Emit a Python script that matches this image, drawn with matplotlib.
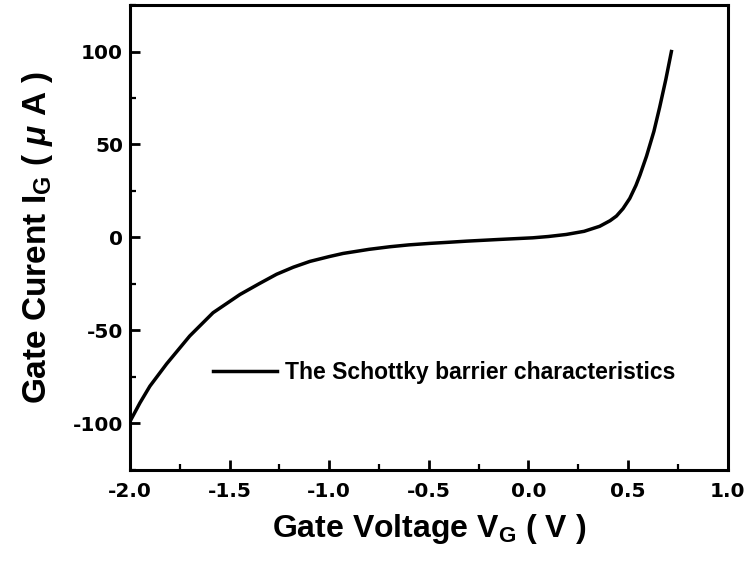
import matplotlib
matplotlib.use("Agg")
import matplotlib.pyplot as plt
from matplotlib.ticker import MultipleLocator, FormatStrFormatter

plt.rcParams['font.family'] = ['Liberation Sans', 'DejaVu Sans']
plt.rcParams['font.weight'] = 'bold'
plt.rcParams['axes.unicode_minus'] = False
plt.rcParams['mathtext.fontset'] = 'custom'
plt.rcParams['mathtext.rm'] = 'Liberation Sans:bold'
plt.rcParams['mathtext.bf'] = 'Liberation Sans:bold'
plt.rcParams['mathtext.it'] = 'Liberation Sans:italic:bold'

# gate voltage (V) and gate current (uA)
vg = [-2.0, -1.95, -1.9, -1.816, -1.7, -1.583, -1.448, -1.35, -1.264, -1.18,
      -1.097, -1.0, -0.93, -0.8, -0.695, -0.6, -0.495, -0.4, -0.311, -0.15,
      0.022, 0.1, 0.19, 0.28, 0.358, 0.41, 0.442, 0.475, 0.509, 0.54, 0.56,
      0.593, 0.63, 0.659, 0.69, 0.718]
ig = [-99, -89, -80, -68, -53, -40.5, -30.7, -24.8, -19.8, -16.0,
      -12.9, -10.3, -8.6, -6.4, -5.0, -4.0, -3.2, -2.6, -2.0, -1.1,
      -0.2, 0.5, 1.6, 3.3, 6, 9, 11.5, 15.5, 21, 28, 33.5,
      43.7, 57, 70, 85, 100]

legend_label = "The Schottky barrier characteristics"

fig = plt.figure(figsize=(7.47, 5.64), dpi=100)
ax = fig.add_axes([0.174, 0.167, 0.8, 0.824])

ax.plot(vg, ig, color='black', lw=2.5, label=legend_label)

ax.set_xlim(-2.0, 1.0)
ax.set_ylim(-125, 125)
ax.xaxis.set_major_locator(MultipleLocator(0.5))
ax.xaxis.set_minor_locator(MultipleLocator(0.25))
ax.yaxis.set_major_locator(MultipleLocator(50))
ax.yaxis.set_minor_locator(MultipleLocator(25))
ax.xaxis.set_major_formatter(FormatStrFormatter('%.1f'))
ax.tick_params(which='major', direction='in', length=7, width=2, labelsize=14.5)
ax.tick_params(axis='x', which='major', pad=9)
ax.tick_params(axis='y', which='major', pad=5)
ax.tick_params(which='minor', direction='in', length=4, width=1.6)
for lab in ax.get_xticklabels() + ax.get_yticklabels():
    lab.set_fontweight('bold')
    lab.set_family('DejaVu Sans')
for s in ax.spines.values():
    s.set_linewidth(2.2)

ax.set_xlabel(r'Gate Voltage V$_{\mathrm{G}}$ ( V )', fontsize=23, fontweight='bold', labelpad=8)
ax.set_ylabel(r'Gate Curent I$_{\mathrm{G}}$ ( $\mathit{\mu}$ A )', fontsize=24, fontweight='bold', labelpad=13)

ax.legend(loc='center left', bbox_to_anchor=(0.139, 0.209), frameon=False,
          borderaxespad=0, borderpad=0,
          prop={'size': 16.5, 'weight': 'bold'}, handlelength=2.8, handletextpad=0.35)

fig.savefig('out.png', dpi=100)
